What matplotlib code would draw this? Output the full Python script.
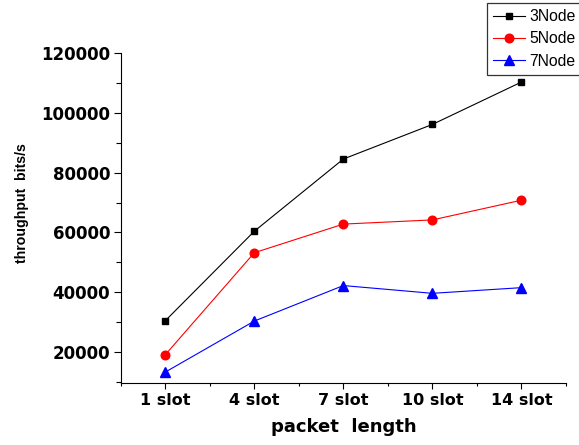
import numpy as np
import matplotlib.pyplot as plt
from matplotlib.ticker import MultipleLocator, FixedLocator

plt.rcParams['font.family'] = ['Liberation Sans', 'DejaVu Sans']

categories = ["1 slot", "4 slot", "7 slot", "10 slot", "14 slot"]
node3 = [30400, 60400, 84600, 96200, 110400]
node5 = [19000, 53200, 62800, 64200, 70800]
node7 = [13200, 30300, 42200, 39600, 41500]

fig = plt.figure(figsize=(5.79, 4.45), dpi=100)
ax = fig.add_axes([0.2085, 0.139, 0.769, 0.741])

x = np.arange(len(categories))
l1, = ax.plot(x, node3, color="black", lw=0.8, marker="s", ms=4.5, label="3Node")
l2, = ax.plot(x, node5, color="red", lw=0.8, marker="o", ms=6.2, label="5Node")
l3, = ax.plot(x, node7, color="blue", lw=0.8, marker="^", ms=7, label="7Node")

bold = dict(family="DejaVu Sans", weight="bold")

ax.set_xlim(-0.5, 4.5)
ax.set_ylim(9500, 120000)
ax.set_xticks(x)
ax.set_xticklabels(categories, fontsize=11.5, **bold)
ax.xaxis.set_minor_locator(FixedLocator(np.arange(-0.5, 4.6, 1.0)))
ax.yaxis.set_major_locator(MultipleLocator(20000))
ax.yaxis.set_minor_locator(MultipleLocator(10000))
for lab in ax.get_yticklabels():
    lab.set_fontsize(12)
    lab.set_fontfamily("DejaVu Sans")
    lab.set_fontweight("bold")

ax.tick_params(axis="y", which="major", direction="out", length=4.8, width=0.8, pad=2.8)
ax.tick_params(axis="y", which="minor", direction="out", length=3.4, width=0.8)
ax.tick_params(axis="x", which="major", direction="out", length=4.3, width=0.8, pad=3)
ax.tick_params(axis="x", which="minor", direction="out", length=2.4, width=0.8)

for side in ("top", "right"):
    ax.spines[side].set_visible(False)
for side in ("left", "bottom"):
    ax.spines[side].set_linewidth(0.8)

ax.set_xlabel("packet  length", fontsize=13, labelpad=7, **bold)
ax.set_ylabel("throughput  bits/s", fontsize=10.2, fontweight="bold")
ax.yaxis.set_label_coords(-0.206, 0.545)

leg = fig.legend(handles=[l1, l2, l3], loc="upper left", bbox_to_anchor=(0.841, 0.993),
                 fontsize=11.3, frameon=True, fancybox=False, handlelength=2.0,
                 borderpad=0.4, labelspacing=0.45, handletextpad=0.3, borderaxespad=0)
leg.get_frame().set_edgecolor("black")
leg.get_frame().set_linewidth(0.9)

fig.savefig("out.png", dpi=100)
